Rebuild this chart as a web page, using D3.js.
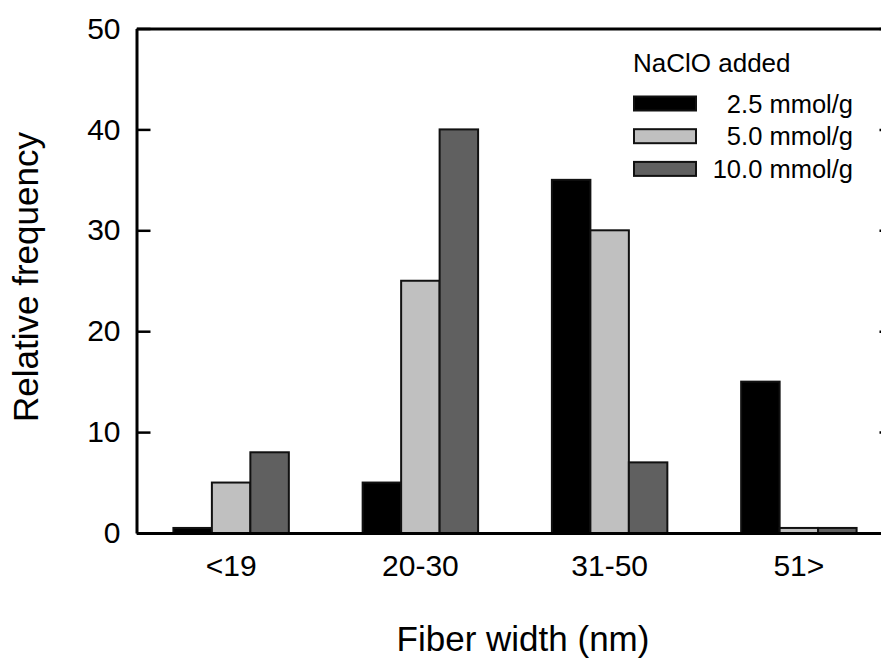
<!DOCTYPE html>
<html>
<head>
<meta charset="utf-8">
<script src="https://cdn.jsdelivr.net/npm/d3@7"></script>
<style>
  body { margin: 0; background: #fff; }
  svg { display: block; }
  text { font-family: "Liberation Sans", Arial, sans-serif; fill: #000; }
</style>
</head>
<body>
<svg id="chart" width="881" height="660"></svg>
<script>
const categories = ["<19", "20-30", "31-50", "51>"];
const seriesNames = ["2.5 mmol/g", "5.0 mmol/g", "10.0 mmol/g"];
const seriesColors = ["#000000", "#c0c0c0", "#606060"];
const values25 = [0.5, 5, 35, 15];
const values50 = [5, 25, 30, 0.5];
const values100 = [8, 40, 7, 0.5];
const yTicks = [0, 10, 20, 30, 40, 50];
const legendTitle = "NaClO added";
const xTitle = "Fiber width (nm)";
const yTitle = "Relative frequency";

const seriesValues = [values25, values50, values100];
const rows = categories.map((c, i) => ({
  cat: c,
  vals: seriesValues.map((s, j) => ({ key: seriesNames[j], value: s[i], color: seriesColors[j] }))
}));

const svg = d3.select("#chart");
const plotLeft = 136.5, plotRight = 893.5, plotTop = 28.5, plotBottom = 533;

const x0 = d3.scaleBand().domain(categories).range([plotLeft, plotRight]).paddingInner(0.39).paddingOuter(0.195);
const x1 = d3.scaleBand().domain(seriesNames).range([0, x0.bandwidth()]);
const y = d3.scaleLinear().domain([0, 50]).range([plotBottom, plotTop]);

// bars
const g = svg.append("g");
g.selectAll("g.grp").data(rows).join("g")
  .attr("class", "grp")
  .attr("transform", d => `translate(${x0(d.cat)},0)`)
  .selectAll("rect").data(d => d.vals).join("rect")
  .attr("x", d => x1(d.key))
  .attr("width", x1.bandwidth())
  .attr("y", d => y(d.value))
  .attr("height", d => y(0) - y(d.value))
  .attr("fill", d => d.color)
  .attr("stroke", "#111")
  .attr("stroke-width", 2);

// axes
const yAxis = d3.axisLeft(y).tickValues(yTicks).tickSizeInner(-14).tickSizeOuter(0).tickPadding(16);
const ga = svg.append("g").attr("transform", `translate(${plotLeft},0)`).call(yAxis);
ga.select(".domain").attr("stroke-width", 3);
ga.selectAll(".tick line").attr("stroke-width", 2.5);
ga.selectAll(".tick text").style("font-size", "30px").style("font-family", "Liberation Sans, Arial, sans-serif");

const yAxisR = d3.axisRight(y).tickValues(yTicks).tickSizeInner(-14).tickSizeOuter(0).tickFormat("");
const gr = svg.append("g").attr("transform", `translate(${plotRight},0)`).call(yAxisR);
gr.select(".domain").attr("stroke-width", 3);
gr.selectAll(".tick line").attr("stroke-width", 2.5);

const xAxis = d3.axisBottom(x0).tickSize(0).tickPadding(22);
const gx = svg.append("g").attr("transform", `translate(0,${plotBottom})`).call(xAxis);
gx.select(".domain").attr("stroke-width", 3);
gx.selectAll(".tick text").style("font-size", "30px").style("font-family", "Liberation Sans, Arial, sans-serif");

const xAxisTop = d3.axisTop(x0).tickSize(0).tickFormat("");
const gt = svg.append("g").attr("transform", `translate(0,${plotTop})`).call(xAxisTop);
gt.select(".domain").attr("stroke-width", 3);

// titles
svg.append("text").attr("x", 523).attr("y", 651).attr("text-anchor", "middle")
  .style("font-size", "35px").text(xTitle);
svg.append("text").attr("transform", `translate(38,277) rotate(-90)`).attr("text-anchor", "middle")
  .style("font-size", "35px").text(yTitle);

// legend
const lg = svg.append("g");
lg.append("text").attr("x", 633).attr("y", 72).style("font-size", "26px").text(legendTitle);
const items = lg.selectAll("g.item").data(seriesNames).join("g")
  .attr("class", "item")
  .attr("transform", (d, i) => `translate(0,${103.5 + i * 32.7})`);
items.append("rect").attr("x", 634).attr("y", -7).attr("width", 62).attr("height", 14)
  .attr("fill", (d, i) => seriesColors[i]).attr("stroke", "#111").attr("stroke-width", 2);
items.append("text").attr("x", 853).attr("y", 9).attr("text-anchor", "end")
  .style("font-size", "25.5px").text(d => d);
</script>
</body>
</html>
